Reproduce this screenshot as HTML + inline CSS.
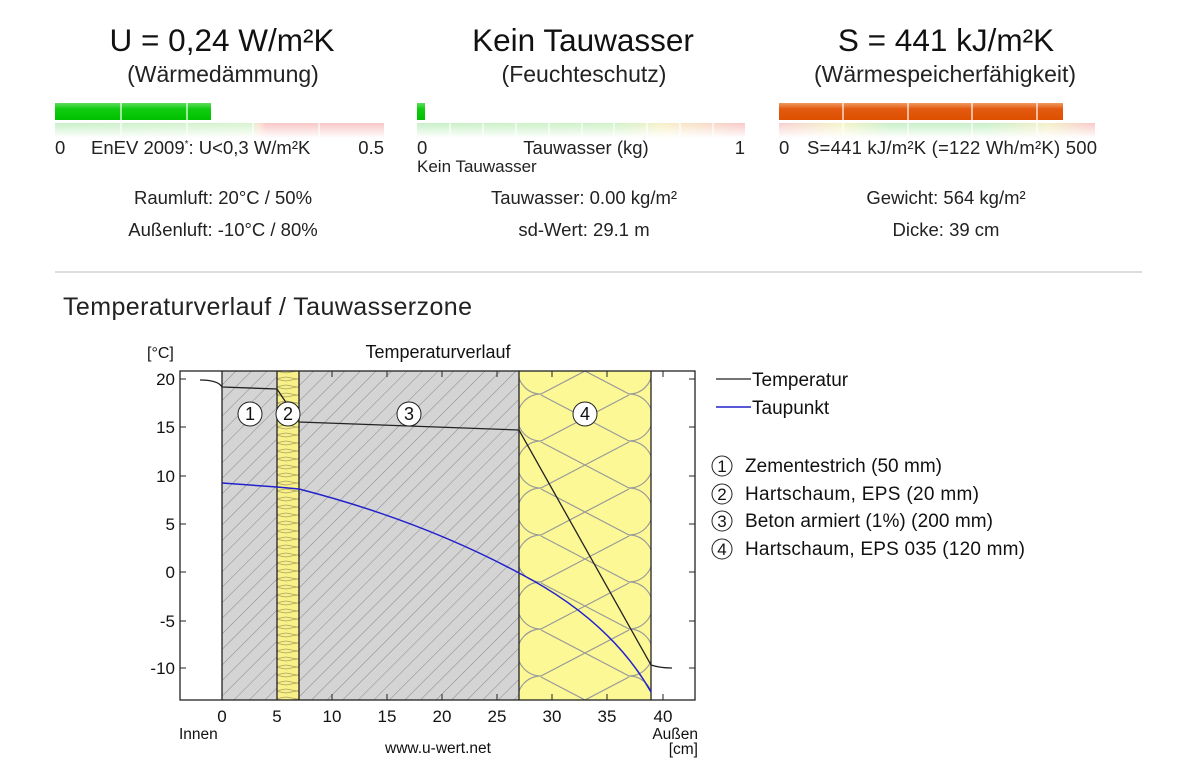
<!DOCTYPE html>
<html><head><meta charset="utf-8"><style>
body{margin:0;background:#fff;width:1200px;height:773px;overflow:hidden;font-family:"Liberation Sans",sans-serif;}
svg{position:absolute;left:0;top:0}
</style></head><body>
<svg width="1200" height="773" xmlns="http://www.w3.org/2000/svg" font-family="Liberation Sans, sans-serif">
<defs>
<linearGradient id="g" x1="0" y1="0" x2="0" y2="1"><stop offset="0" stop-color="#5fdc5f"/><stop offset="0.35" stop-color="#10cc10"/><stop offset="1" stop-color="#00c000"/></linearGradient>
<linearGradient id="o" x1="0" y1="0" x2="0" y2="1"><stop offset="0" stop-color="#f09a60"/><stop offset="0.35" stop-color="#e25a10"/><stop offset="1" stop-color="#de5000"/></linearGradient>
<linearGradient id="fade" x1="0" y1="0" x2="0" y2="1"><stop offset="0" stop-color="#fff" stop-opacity="0"/><stop offset="1" stop-color="#fff" stop-opacity="1"/></linearGradient>
<linearGradient id="b1" x1="0" y1="0" x2="1" y2="0"><stop offset="0" stop-color="#c8f0c8"/><stop offset="0.6" stop-color="#d8f4d0"/><stop offset="0.62" stop-color="#fde0d0"/><stop offset="0.64" stop-color="#f8c8c8"/><stop offset="1" stop-color="#f8c8c8"/></linearGradient>
<linearGradient id="b2" x1="0" y1="0" x2="1" y2="0"><stop offset="0" stop-color="#c8f0c8"/><stop offset="0.6" stop-color="#d0f2c8"/><stop offset="0.75" stop-color="#f8f0c8"/><stop offset="1" stop-color="#f8c8c8"/></linearGradient>
<linearGradient id="b3" x1="0" y1="0" x2="1" y2="0"><stop offset="0" stop-color="#f8d0d0"/><stop offset="0.2" stop-color="#f4f4c8"/><stop offset="0.35" stop-color="#c8f0c8"/><stop offset="0.65" stop-color="#c8f0c8"/><stop offset="0.85" stop-color="#f4f0c8"/><stop offset="1" stop-color="#f8c8c8"/></linearGradient>
<pattern id="hatch" width="11" height="11" patternUnits="userSpaceOnUse" patternTransform="rotate(45)"><rect width="11" height="11" fill="#d4d4d4"/><line x1="0" y1="0" x2="0" y2="11" stroke="#888" stroke-width="1"/></pattern>
<pattern id="zz" width="22" height="8" patternUnits="userSpaceOnUse"><rect width="22" height="8" fill="#f8f088"/><path d="M0,1 L22,5 M0,5 L22,1" stroke="#a8a060" stroke-width="0.8" fill="none"/></pattern>
<clipPath id="c4"><rect x="519" y="371" width="132" height="329"/></clipPath>
</defs>

<g font-size="31.5" text-anchor="middle" fill="#111">
<text x="222" y="51">U = 0,24 W/m²K</text>
<text x="583" y="51">Kein Tauwasser</text>
<text x="946" y="51">S = 441 kJ/m²K</text>
</g>
<g font-size="23" text-anchor="middle" fill="#222">
<text x="223" y="82">(Wärmedämmung)</text>
<text x="584" y="82">(Feuchteschutz)</text>
<text x="945" y="82">(Wärmespeicherfähigkeit)</text>
</g>

<rect x="55" y="123" width="329" height="15" fill="url(#b1)"/>
<rect x="55" y="123" width="329" height="15" fill="url(#fade)"/>
<rect x="55" y="103" width="156" height="17" fill="url(#g)"/>
<g stroke="#fff" stroke-width="1.2"><line x1="121" y1="103" x2="121" y2="138"/><line x1="187" y1="103" x2="187" y2="138"/><line x1="253" y1="123" x2="253" y2="138"/><line x1="319" y1="123" x2="319" y2="138"/></g>

<rect x="417" y="123" width="328" height="15" fill="url(#b2)"/>
<rect x="417" y="123" width="328" height="15" fill="url(#fade)"/>
<rect x="417" y="103" width="8" height="17" fill="url(#g)"/>
<g stroke="#fff" stroke-width="1.2"><line x1="450" y1="123" x2="450" y2="138"/><line x1="483" y1="123" x2="483" y2="138"/><line x1="516" y1="123" x2="516" y2="138"/><line x1="549" y1="123" x2="549" y2="138"/><line x1="582" y1="123" x2="582" y2="138"/><line x1="614" y1="123" x2="614" y2="138"/><line x1="647" y1="123" x2="647" y2="138"/><line x1="680" y1="123" x2="680" y2="138"/><line x1="713" y1="123" x2="713" y2="138"/></g>

<rect x="779" y="123" width="316" height="15" fill="url(#b3)"/>
<rect x="779" y="123" width="316" height="15" fill="url(#fade)"/>
<rect x="779" y="103" width="284" height="17" fill="url(#o)"/>
<g stroke="#fff" stroke-width="1.2"><line x1="843" y1="103" x2="843" y2="138"/><line x1="908" y1="103" x2="908" y2="138"/><line x1="972" y1="103" x2="972" y2="138"/><line x1="1037" y1="103" x2="1037" y2="138"/></g>

<g font-size="18.5" fill="#222">
<text x="55" y="154">0</text>
<text x="91" y="154">EnEV 2009<tspan font-size="10" dy="-7">*</tspan><tspan dy="7">: U&lt;0,3 W/m²K</tspan></text>
<text x="384" y="154" text-anchor="end">0.5</text>
<text x="417" y="154">0</text>
<text x="586" y="154" text-anchor="middle">Tauwasser (kg)</text>
<text x="745" y="154" text-anchor="end">1</text>
<text x="417" y="172" font-size="17">Kein Tauwasser</text>
<text x="779" y="154">0</text>
<text x="807" y="154" textLength="290">S=441 kJ/m²K (=122 Wh/m²K) 500</text>
</g>
<g font-size="18.5" fill="#222" text-anchor="middle">
<text x="223" y="204">Raumluft: 20°C / 50%</text>
<text x="223" y="236">Außenluft: -10°C / 80%</text>
<text x="584" y="204">Tauwasser: 0.00 kg/m²</text>
<text x="584" y="236">sd-Wert: 29.1 m</text>
<text x="946" y="204">Gewicht: 564 kg/m²</text>
<text x="946" y="236">Dicke: 39 cm</text>
</g>
<line x1="55" y1="272" x2="1142" y2="272" stroke="#bbb" stroke-width="1"/>
<text x="63" y="315" font-size="25" fill="#222" textLength="409">Temperaturverlauf / Tauwasserzone</text>

<text x="147" y="358" font-size="16" fill="#111">[°C]</text>
<text x="438" y="358" font-size="18" fill="#111" text-anchor="middle">Temperaturverlauf</text>
<rect x="222" y="371" width="55" height="329" fill="url(#hatch)"/>
<rect x="277" y="371" width="22" height="329" fill="url(#zz)"/>
<rect x="299" y="371" width="220" height="329" fill="url(#hatch)"/>
<rect x="519" y="371" width="132" height="329" fill="#fcf896"/>
<g clip-path="url(#c4)" stroke="#999" stroke-width="1.2" fill="none">
<path d="M541,348 L629,394 M541,395 L629,441 M541,442 L629,488 M541,489 L629,535 M541,536 L629,582 M541,583 L629,629 M541,630 L629,676 M541,677 L629,723"/>
<path d="M541,394 L629,348 M541,441 L629,395 M541,488 L629,442 M541,535 L629,489 M541,582 L629,536 M541,629 L629,583 M541,676 L629,630 M541,723 L629,677"/>
<path d="M541,348 A23,23 0 0 0 541,394 A23,23 0 0 0 541,441 A23,23 0 0 0 541,488 A23,23 0 0 0 541,535 A23,23 0 0 0 541,582 A23,23 0 0 0 541,629 A23,23 0 0 0 541,676 A23,23 0 0 0 541,723"/>
<path d="M629,348 A23,23 0 0 1 629,394 A23,23 0 0 1 629,441 A23,23 0 0 1 629,488 A23,23 0 0 1 629,535 A23,23 0 0 1 629,582 A23,23 0 0 1 629,629 A23,23 0 0 1 629,676 A23,23 0 0 1 629,723"/>
</g>
<g stroke="#222" stroke-width="1.3"><line x1="222" y1="371" x2="222" y2="700"/><line x1="277" y1="371" x2="277" y2="700"/><line x1="299" y1="371" x2="299" y2="700"/><line x1="519" y1="371" x2="519" y2="700"/><line x1="651" y1="371" x2="651" y2="700"/></g>
<rect x="180" y="371" width="515" height="329" fill="none" stroke="#222" stroke-width="1.3"/>
<g stroke="#222" stroke-width="1">
<path d="M180,379h6M180,427h6M180,476h6M180,524h6M180,572h6M180,621h6M180,668h6"/>
<path d="M695,379h-6M695,427h-6M695,476h-6M695,524h-6M695,572h-6M695,621h-6M695,668h-6"/>
<path d="M222,700v-6M277,700v-6M332,700v-6M387,700v-6M442,700v-6M497,700v-6M552,700v-6M607,700v-6M663,700v-6"/>
<path d="M222,371v6M277,371v6M332,371v6M387,371v6M442,371v6M497,371v6M552,371v6M607,371v6M663,371v6"/>
</g>
<g font-size="17" fill="#111" text-anchor="end">
<text x="175" y="385">20</text><text x="175" y="433">15</text><text x="175" y="482">10</text><text x="175" y="530">5</text><text x="175" y="578">0</text><text x="175" y="627">-5</text><text x="175" y="674">-10</text>
</g>
<g font-size="17" fill="#111" text-anchor="middle">
<text x="222" y="722">0</text><text x="277" y="722">5</text><text x="332" y="722">10</text><text x="387" y="722">15</text><text x="442" y="722">20</text><text x="497" y="722">25</text><text x="552" y="722">30</text><text x="607" y="722">35</text><text x="663" y="722">40</text>
</g>
<g font-size="15.5" fill="#111">
<text x="179" y="739">Innen</text>
<text x="698" y="739" text-anchor="end">Außen</text>
<text x="698" y="754" text-anchor="end">[cm]</text>
<text x="438" y="753" text-anchor="middle">www.u-wert.net</text>
</g>

<path d="M200,380 Q218,380 222,387 L277,389 L299,422 L519,430 L651,665 Q660,668 672,668" stroke="#222" stroke-width="1.3" fill="none"/>
<path d="M222,483 L277,487 L299,489 Q420,520 519,573 Q610,620 651,692" stroke="#2222cc" stroke-width="1.5" fill="none"/>

<g stroke="#222" stroke-width="1">
<circle cx="250" cy="414" r="12" fill="#fff"/><circle cx="288" cy="414" r="12" fill="#fff"/><circle cx="409" cy="414" r="12" fill="#fff"/><circle cx="585" cy="414" r="12" fill="#fff"/>
</g>
<g font-size="18" fill="#111" text-anchor="middle">
<text x="250" y="420">1</text><text x="288" y="420">2</text><text x="409" y="420">3</text><text x="585" y="420">4</text>
</g>

<line x1="716" y1="379" x2="751" y2="379" stroke="#222" stroke-width="1.3"/>
<line x1="716" y1="407" x2="751" y2="407" stroke="#2222cc" stroke-width="1.5"/>
<g font-size="19" fill="#111">
<text x="752" y="386">Temperatur</text>
<text x="752" y="414">Taupunkt</text>
</g>
<g stroke="#222" stroke-width="1" fill="#fff">
<circle cx="722" cy="466" r="10"/><circle cx="722" cy="494" r="10"/><circle cx="722" cy="521" r="10"/><circle cx="722" cy="549" r="10"/>
</g>
<g font-size="17" fill="#111">
<text x="722" y="472" text-anchor="middle">1</text><text x="722" y="500" text-anchor="middle">2</text><text x="722" y="527" text-anchor="middle">3</text><text x="722" y="555" text-anchor="middle">4</text>
</g>
<g font-size="19" fill="#111">
<text x="745" y="472" textLength="197">Zementestrich (50 mm)</text>
<text x="745" y="500" textLength="234">Hartschaum, EPS  (20 mm)</text>
<text x="745" y="527" textLength="248">Beton armiert (1%) (200 mm)</text>
<text x="745" y="555" textLength="280">Hartschaum, EPS 035  (120 mm)</text>
</g>
</svg>
</body></html>
